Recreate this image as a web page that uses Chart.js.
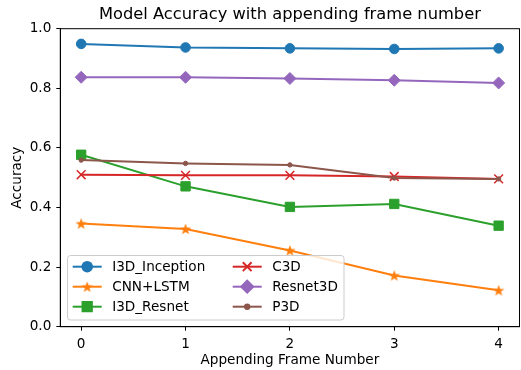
<!DOCTYPE html>
<html>
<head>
<meta charset="utf-8">
<script src="https://cdn.jsdelivr.net/npm/chart.js"></script>
<style>
  html, body { margin: 0; padding: 0; background: #fff; }
  #wrap { width: 521px; height: 370px; position: relative; }
</style>
</head>
<body>
<div id="wrap"><canvas id="myChart" width="521" height="370"></canvas></div>
<script>
const frames = [0, 1, 2, 3, 4];
const i3dInception = [0.949, 0.937, 0.934, 0.932, 0.934];
const cnnLstm = [0.346, 0.328, 0.256, 0.172, 0.122];
const i3dResnet = [0.577, 0.471, 0.402, 0.412, 0.339];
const c3d = [0.510, 0.508, 0.508, 0.504, 0.496];
const resnet3d = [0.837, 0.837, 0.833, 0.827, 0.818];
const p3d = [0.559, 0.548, 0.543, 0.499, 0.496];
const yTicks = [0, 0.2, 0.4, 0.6, 0.8, 1.0];

const FONT = "'DejaVu Sans', sans-serif";

// filled five point star like matplotlib '*'
const makeStar = (color) => {
  const c = document.createElement('canvas');
  c.width = 14;
  c.height = 14;
  const g = c.getContext('2d');
  g.fillStyle = color;
  g.beginPath();
  for (let i = 0; i < 10; i++) {
    const r = i % 2 === 0 ? 6 : 2.4;
    const a = -Math.PI / 2 + (i * Math.PI) / 5;
    g.lineTo(7 + r * Math.cos(a), 7.5 + r * Math.sin(a));
  }
  g.closePath();
  g.fill();
  return c;
};

const series = [
  { label: 'I3D_Inception', data: i3dInception, color: '#1f77b4', style: 'circle', radius: 4.8, bw: 1 },
  { label: 'CNN+LSTM', data: cnnLstm, color: '#ff7f0e', style: makeStar('#ff7f0e'), radius: 6, bw: 1 },
  { label: 'I3D_Resnet', data: i3dResnet, color: '#2ca02c', style: 'rect', radius: 6.6, bw: 1 },
  { label: 'C3D', data: c3d, color: '#d62728', style: 'crossRot', radius: 6.2, bw: 1.5 },
  { label: 'Resnet3D', data: resnet3d, color: '#9467bd', style: 'rectRot', radius: 6, bw: 1 },
  { label: 'P3D', data: p3d, color: '#8c564b', style: 'circle', radius: 2.2, bw: 1 },
];

const datasets = series.map((s, i) => ({
  label: s.label,
  data: frames.map((f, j) => ({ x: f, y: s.data[j] })),
  borderColor: s.color,
  backgroundColor: s.color,
  borderWidth: 2,
  pointStyle: s.style,
  pointRadius: s.radius,
  pointBorderWidth: s.bw,
  pointBackgroundColor: s.color,
  pointBorderColor: s.color,
  tension: 0,
  order: series.length - i,
}));

// frame, titles and the two-column legend inside the plot
const decor = {
  id: 'decor',
  afterDraw(chart) {
    const { ctx, chartArea: a } = chart;
    ctx.save();
    ctx.strokeStyle = '#000';
    ctx.lineWidth = 1;
    ctx.strokeRect(a.left, a.top, a.right - a.left, a.bottom - a.top);

    ctx.fillStyle = '#000';
    ctx.textAlign = 'center';
    ctx.textBaseline = 'middle';
    ctx.font = '16.3px ' + FONT;
    ctx.fillText('Model Accuracy with appending frame number', (a.left + a.right) / 2, 15);
    ctx.font = '13.6px ' + FONT;
    ctx.fillText('Appending Frame Number', (a.left + a.right) / 2, 360);
    ctx.translate(17, (a.top + a.bottom) / 2);
    ctx.rotate(-Math.PI / 2);
    ctx.fillText('Accuracy', 0, 0);
    ctx.restore();

    // legend
    ctx.save();
    const bx = 67.5, by = 255.5, bw = 276.5, bh = 64.5;
    ctx.fillStyle = 'rgba(255,255,255,0.8)';
    ctx.strokeStyle = '#cccccc';
    ctx.lineWidth = 1;
    ctx.beginPath();
    ctx.roundRect(bx, by, bw, bh, 3);
    ctx.fill();
    ctx.stroke();
    const cols = [72.7, 232.7];
    const rows = [266.7, 286.7, 306.7];
    ctx.font = '13.6px ' + FONT;
    ctx.textAlign = 'left';
    ctx.textBaseline = 'middle';
    series.forEach((s, i) => {
      const x0 = cols[Math.floor(i / 3)];
      const y0 = rows[i % 3];
      ctx.strokeStyle = s.color;
      ctx.fillStyle = s.color;
      ctx.lineWidth = 2;
      ctx.beginPath();
      ctx.moveTo(x0, y0);
      ctx.lineTo(x0 + 29, y0);
      ctx.stroke();
      Chart.helpers.drawPoint(ctx, {
        pointStyle: s.style,
        radius: s.radius,
        borderWidth: s.bw,
        rotation: 0,
      }, x0 + 14.5, y0);
      ctx.fillStyle = '#000';
      ctx.fillText(s.label, x0 + 39.5, y0 + 1);
    });
    ctx.restore();
  },
};

const ctx = document.getElementById('myChart').getContext('2d');
const myChart = new Chart(ctx, {
  type: 'line',
  data: { datasets },
  options: {
    responsive: false,
    animation: false,
    devicePixelRatio: 1,
    layout: { autoPadding: false, padding: { top: 28.7, right: 1.5, left: 0, bottom: 0 } },
    plugins: {
      legend: { display: false },
      title: { display: false },
      tooltip: { enabled: false },
    },
    scales: {
      x: {
        type: 'linear',
        min: -0.2,
        max: 4.2,
        afterBuildTicks: (scale) => {
          scale.ticks = frames.map((v) => ({ value: v }));
        },
        afterFit: (scale) => {
          scale.height = 43.3;
        },
        grid: {
          drawOnChartArea: false,
          drawTicks: true,
          tickLength: 4,
          tickWidth: 1,
          tickColor: '#000',
        },
        border: { display: true, color: '#000', width: 1 },
        ticks: {
          color: '#000',
          padding: 6,
          maxRotation: 0,
          font: { family: FONT, size: 13.6 },
          callback: (v) => String(v),
        },
      },
      y: {
        type: 'linear',
        min: 0,
        max: 1,
        afterBuildTicks: (scale) => {
          scale.ticks = yTicks.map((v) => ({ value: v }));
        },
        afterFit: (scale) => {
          scale.width = 60.3;
        },
        grid: {
          drawOnChartArea: false,
          drawTicks: true,
          tickLength: 4,
          tickWidth: 1,
          tickColor: '#000',
        },
        border: { display: true, color: '#000', width: 1 },
        ticks: {
          color: '#000',
          padding: 5,
          font: { family: FONT, size: 13.6 },
          callback: (v) => Number(v).toFixed(1),
        },
      },
    },
  },
  plugins: [decor],
});
</script>
</body>
</html>
